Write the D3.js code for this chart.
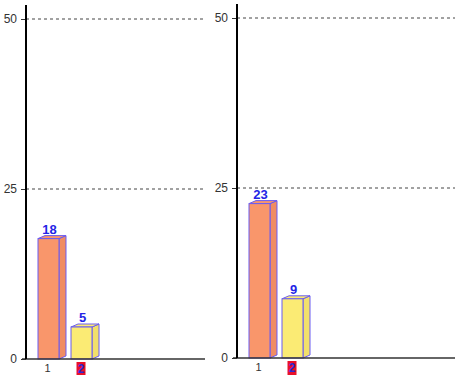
<!DOCTYPE html>
<html>
<head>
<meta charset="utf-8">
<script src="https://cdn.jsdelivr.net/npm/d3@7"></script>
<style>
  body { margin:0; background:#fff; }
  svg { display:block; font-family:"Liberation Sans", Arial, sans-serif; }
</style>
</head>
<body>
<div id="chart"></div>
<script>
// data
var categories = ["1", "2"];
var leftValues = [18, 5];
var rightValues = [23, 9];
var yTicks = [0, 25, 50];
var barColors = ["#f9966b", "#fbeb74"];
var sideColors = ["#f08c62", "#f2e06a"];

const svg_width = 455, svg_height = 375;
const svg = d3.select('#chart').append('svg')
  .attr('width', svg_width).attr('height', svg_height);

const depthX = 7, depthY = 3;

function panel(values, axisX, endX, y0, y50) {
  const g = svg.append('g');
  const yScale = d3.scaleLinear().domain([0, 50]).range([y0, y50]);
  const xScale = d3.scaleBand().domain(categories)
    .range([axisX + 12, axisX + 66]).paddingInner(0.364).paddingOuter(0);

  // grid lines
  g.selectAll('.grid').data(yTicks.filter(t => t > 0)).enter()
    .append('line')
    .attr('x1', axisX).attr('x2', endX)
    .attr('y1', d => yScale(d)).attr('y2', d => yScale(d))
    .attr('stroke', '#444').attr('stroke-width', 1)
    .attr('stroke-dasharray', '3,3');

  // y axis
  const yAxis = d3.axisLeft(yScale).tickValues(yTicks).tickSize(5).tickPadding(4);
  const yAxisDraw = g.append('g').attr('transform', `translate(${axisX},0)`).call(yAxis);
  yAxisDraw.select('.domain').remove();
  yAxisDraw.selectAll('text').attr('font-size', 12).attr('fill', '#333')
    .attr('font-family', '"Liberation Sans", Arial, sans-serif');
  yAxisDraw.selectAll('.tick line').attr('stroke', '#333');

  // bars
  const bars = g.selectAll('.bar').data(values).enter().append('g');
  bars.each(function (d, i) {
    const b = d3.select(this);
    const x = xScale(categories[i]);
    const w = xScale.bandwidth();
    const top = yScale(d) + 2;
    const bottom = yScale(0);
    // side face
    b.append('polygon')
      .attr('points', [[x + w, top], [x + w + depthX, top - depthY],
        [x + w + depthX, bottom - depthY], [x + w, bottom]].join(' '))
      .attr('fill', sideColors[i]).attr('stroke', '#6a5cf2').attr('stroke-width', 1);
    // top face
    b.append('polygon')
      .attr('points', [[x, top], [x + depthX, top - depthY],
        [x + w + depthX, top - depthY], [x + w, top]].join(' '))
      .attr('fill', barColors[i]).attr('stroke', '#6a5cf2').attr('stroke-width', 1);
    // front face
    b.append('rect')
      .attr('x', x).attr('y', top).attr('width', w).attr('height', bottom - top)
      .attr('fill', barColors[i]).attr('stroke', '#6a5cf2').attr('stroke-width', 1);
    // value label
    b.append('text')
      .attr('x', x + w / 2 + 1).attr('y', top - depthY - 2)
      .attr('text-anchor', 'middle').attr('font-size', 13).attr('font-weight', 'bold')
      .attr('fill', '#2424e6').text(d);
  });

  // x axis line
  g.append('line').attr('x1', axisX - 4).attr('x2', endX)
    .attr('y1', y0).attr('y2', y0).attr('stroke', '#333').attr('stroke-width', 1.5);

  // category labels
  categories.forEach(function (c, i) {
    const cx = xScale(c) + xScale.bandwidth() / 2 - 1;
    if (i === 1) {
      g.append('rect').attr('x', cx - 4).attr('y', y0 + 3).attr('width', 9).attr('height', 15)
        .attr('fill', '#e8102a');
      g.append('text').attr('x', cx + 0.5).attr('y', y0 + 14).attr('text-anchor', 'middle')
        .attr('font-size', 12).attr('font-weight', 'bold').attr('fill', '#2a2ad8').text(c);
    } else {
      g.append('text').attr('x', cx).attr('y', y0 + 13).attr('text-anchor', 'middle')
        .attr('font-size', 11).attr('fill', '#333').text(c);
    }
  });

  // y axis line
  g.append('line').attr('x1', axisX).attr('x2', axisX)
    .attr('y1', y50 - 14).attr('y2', y0)
    .attr('stroke', '#000').attr('stroke-width', 2);
}

panel(leftValues, 26, 205, 359, 19);
panel(rightValues, 237, 455, 358, 18);
</script>
</body>
</html>
